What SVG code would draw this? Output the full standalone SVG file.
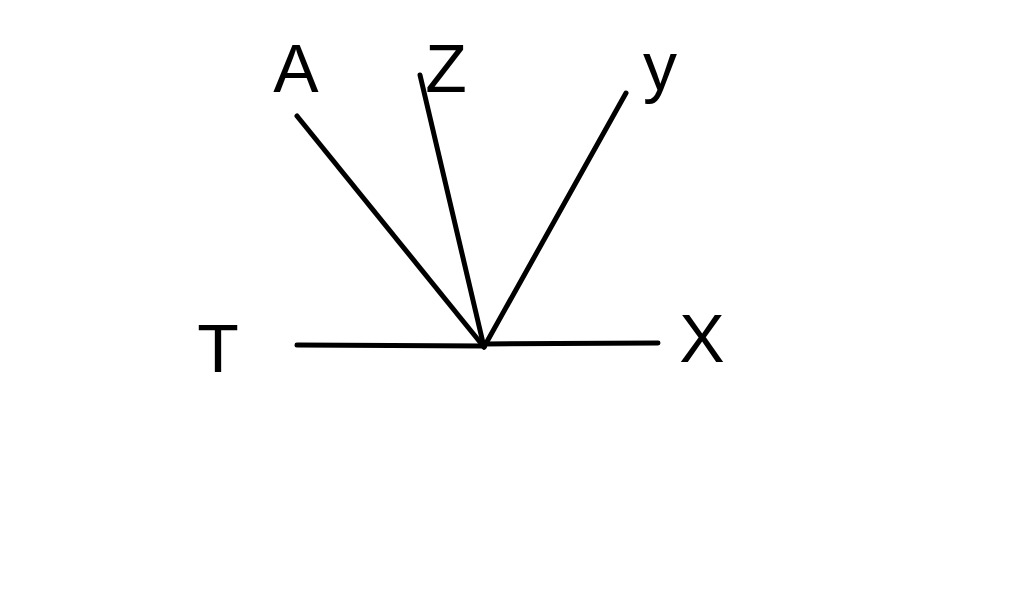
<svg xmlns="http://www.w3.org/2000/svg" width="1024" height="595" viewBox="0 0 1024 595">
<style>
.ln{stroke:#000;stroke-width:5;stroke-linecap:round;fill:none}
.lb{font-family:"Liberation Sans",Arial,sans-serif;font-size:68px;fill:#000;text-anchor:middle}
</style>
<rect width="1024" height="595" fill="#fff"/>
<g id="connectors">
<line class="ln" x1="297" y1="345" x2="484" y2="346"/>
<line class="ln" x1="484" y1="344" x2="658" y2="343"/>
<line class="ln" x1="297" y1="116" x2="484" y2="347"/>
<line class="ln" x1="420" y1="75" x2="484" y2="347"/>
<line class="ln" x1="626" y1="93" x2="484" y2="347"/>
</g>
<g id="A"><text class="lb" x="296" y="92">A</text></g>
<g id="Z"><text class="lb" x="446" y="92">Z</text></g>
<g id="y"><text class="lb" x="660" y="90">y</text></g>
<g id="T"><text class="lb" x="218" y="372">T</text></g>
<g id="X"><text class="lb" x="702" y="362">X</text></g>
</svg>
